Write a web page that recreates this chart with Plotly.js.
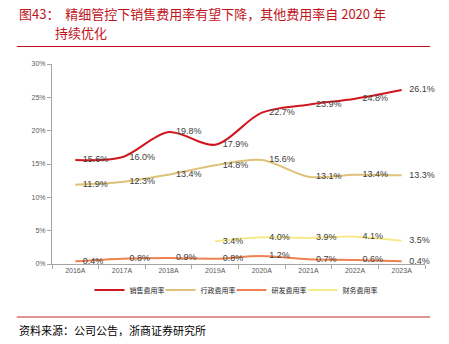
<!DOCTYPE html>
<html>
<head>
<meta charset="utf-8">
<script src="https://cdn.plot.ly/plotly-3.0.1.min.js"></script>
<style>
html,body{margin:0;padding:0;background:#fff;}
#chart{width:449px;height:344px;}
</style>
</head>
<body>
<div id="chart"></div>
<script>
const years = ["2016A","2017A","2018A","2019A","2020A","2021A","2022A","2023A"];
const salesRate = [15.6, 16.0, 19.8, 17.9, 22.7, 23.9, 24.8, 26.1];
const adminRate = [11.9, 12.3, 13.4, 14.8, 15.6, 13.1, 13.4, 13.3];
const rdRate = [0.4, 0.8, 0.9, 0.8, 1.2, 0.7, 0.6, 0.4];
const financeRate = [null, null, null, 3.4, 4.0, 3.9, 4.1, 3.5];
const seriesNames = ["销售费用率", "行政费用率", "研发费用率", "财务费用率"];
const yTicks = [0, 5, 10, 15, 20, 25, 30];

const colors = ["#d0161e", "#dfc27a", "#ef8250", "#f7ea8a"];
const series = [salesRate, adminRate, rdRate, financeRate];
const legendWidths = [26, 26, 26, 40];
const pad = "\u00a0\u00a0\u00a0";

const traces = series.map((vals, i) => ({
  x: years,
  y: vals,
  name: seriesNames[i],
  type: "scatter",
  mode: "lines+text",
  line: {color: colors[i], width: 2, shape: "spline", smoothing: 0.9},
  text: vals.map(v => v === null ? "" : pad + v.toFixed(1) + "%"),
  textposition: "middle right",
  textfont: {family: "Liberation Sans, Arial, sans-serif", size: 9, color: "#404040"},
  legendwidth: legendWidths[i],
  cliponaxis: false,
  connectgaps: false,
  hoverinfo: "skip"
}));

const cjk = "Noto Sans CJK SC, sans-serif";
const layout = {
  width: 449,
  height: 344,
  paper_bgcolor: "#fff",
  plot_bgcolor: "#fff",
  margin: {l: 52, r: 24, t: 64, b: 80},
  showlegend: true,
  legend: {
    orientation: "h",
    x: 0.5, xref: "paper", xanchor: "center",
    y: -0.13, yanchor: "middle",
    font: {family: cjk, size: 7, color: "#222"},
    itemwidth: 30,
    entrywidthmode: "pixels",
    tracegroupgap: 0
  },
  xaxis: {
    type: "category",
    range: [-0.5, 7.5],
    showgrid: false,
    zeroline: false,
    showline: true,
    linecolor: "#a6a6a6",
    linewidth: 1,
    ticks: "outside",
    tickson: "boundaries",
    ticklen: 4,
    tickcolor: "#a6a6a6",
    tickfont: {family: "Liberation Sans, Arial, sans-serif", size: 7, color: "#595959"},
    fixedrange: true
  },
  yaxis: {
    range: [0, 30],
    tickvals: yTicks,
    ticktext: yTicks.map(v => v + "%"),
    showgrid: false,
    zeroline: false,
    showline: true,
    linecolor: "#a6a6a6",
    linewidth: 1,
    ticks: "outside",
    ticklen: 4,
    tickcolor: "#a6a6a6",
    tickfont: {family: "Liberation Sans, Arial, sans-serif", size: 7, color: "#595959"},
    fixedrange: true
  },
  shapes: [
    {type: "line", xref: "paper", yref: "paper", x0: -0.0945, x1: 1.0134, y0: 1.0875, y1: 1.0875,
     line: {color: "#c0141b", width: 1}},
    {type: "line", xref: "paper", yref: "paper", x0: -0.0945, x1: 1.0134, y0: -0.265, y1: -0.265,
     line: {color: "#d67070", width: 1.5}}
  ],
  annotations: [
    {text: "图43：  精细管控下销售费用率有望下降，其他费用率自 2020 年", xref: "paper", yref: "paper",
     x: -0.0945, y: 1.255, xanchor: "left", yanchor: "middle", showarrow: false,
     font: {family: cjk, size: 13, color: "#c0141b"}},
    {text: "持续优化", xref: "paper", yref: "paper",
     x: 0.003, y: 1.155, xanchor: "left", yanchor: "middle", showarrow: false,
     font: {family: cjk, size: 13, color: "#c0141b"}},
    {text: "资料来源：公司公告，浙商证券研究所", xref: "paper", yref: "paper",
     x: -0.0945, y: -0.33, xanchor: "left", yanchor: "middle", showarrow: false,
     font: {family: cjk, size: 11, color: "#000"}}
  ]
};

Plotly.newPlot("chart", traces, layout, {displayModeBar: false, staticPlot: true});
</script>
</body>
</html>
